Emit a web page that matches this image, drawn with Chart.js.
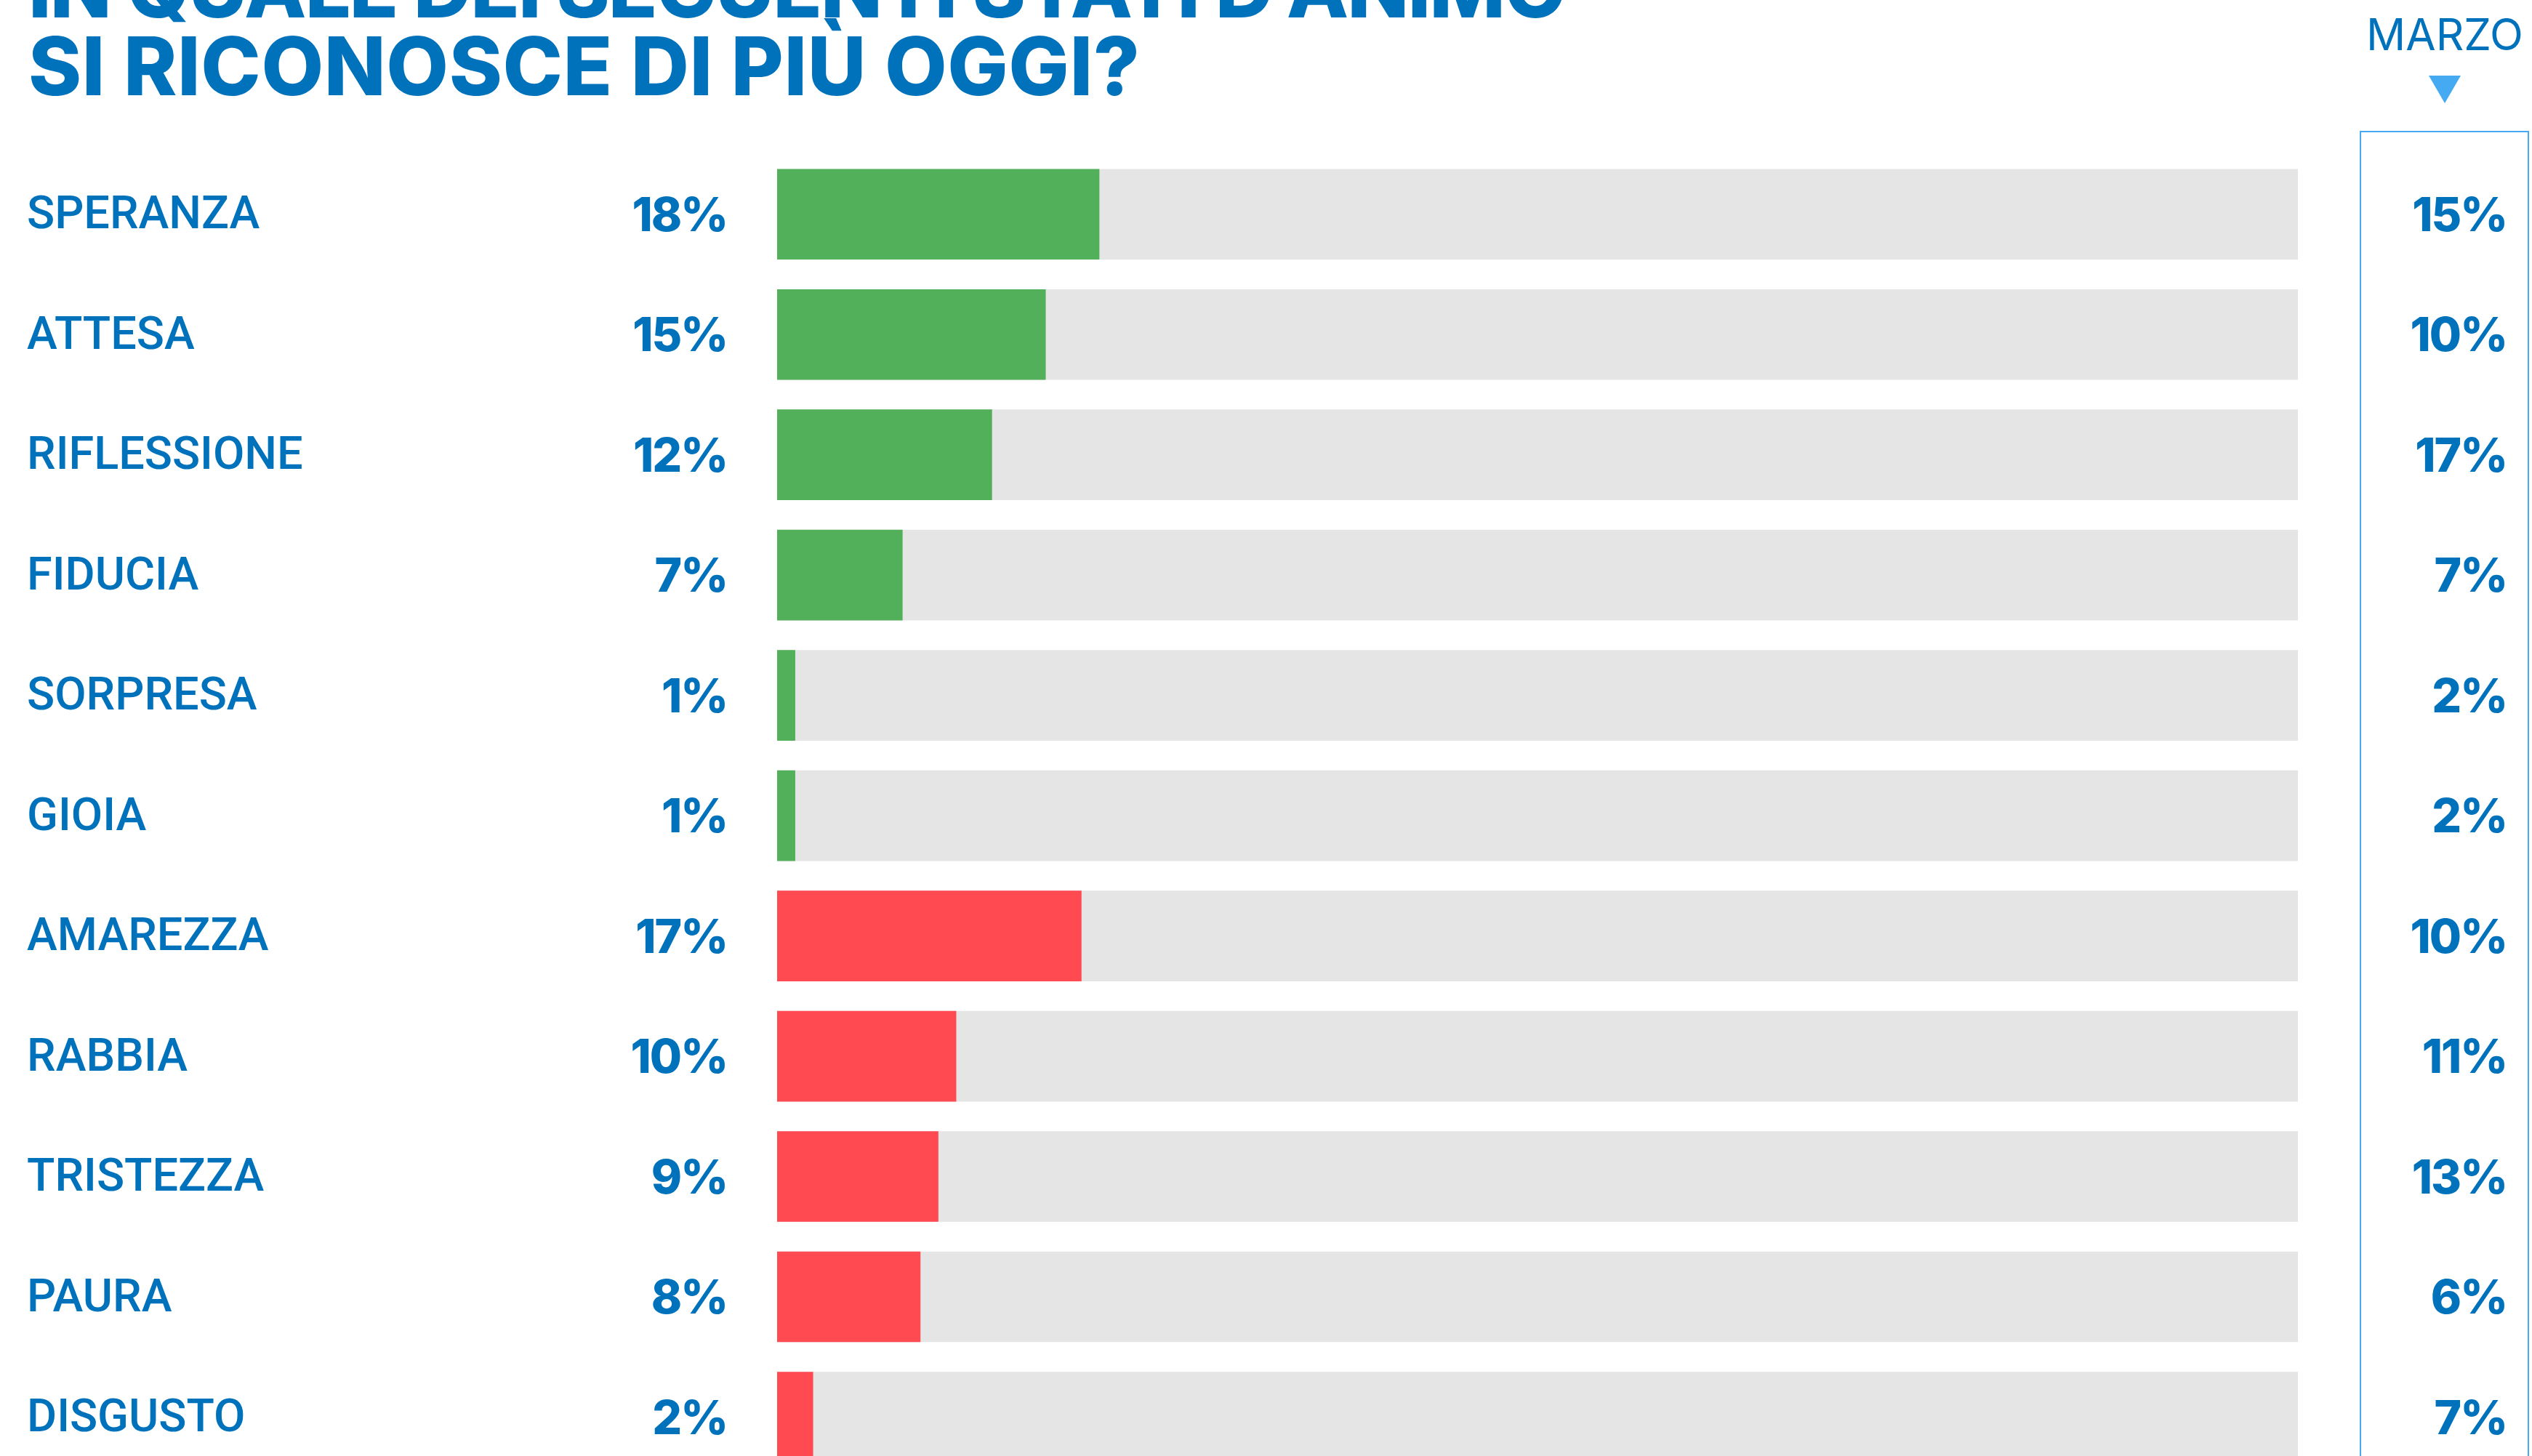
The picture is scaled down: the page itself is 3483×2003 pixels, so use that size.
<!DOCTYPE html>
<html>
<head>
<meta charset="utf-8">
<script src="https://cdn.jsdelivr.net/npm/chart.js@4.4.1/dist/chart.umd.min.js"></script>
<style>
  html, body { margin: 0; padding: 0; background: #fff; overflow: hidden; }
  #wrap { position: relative; width: 3483px; height: 2003px; overflow: hidden; }
  #chart { position: absolute; left: 0; top: 0; }
  svg { position: absolute; left: 0; top: 0; }
</style>
</head>
<body>
<div id="wrap">
  <canvas id="chart" width="3483" height="2070"></canvas>
  <svg width="3483" height="2003">
    <text x="39" y="24" textLength="2116" lengthAdjust="spacing" font-family="Inter" font-weight="800" font-size="111" fill="#0072bc">IN QUALE DEI SEGUENTI STATI D’ANIMO</text>
    <text x="39" y="131" textLength="1529" lengthAdjust="spacing" font-family="Inter" font-weight="800" font-size="111" fill="#0072bc">SI RICONOSCE DI PIÙ OGGI?</text>
    <text x="3363" y="69" text-anchor="middle" font-family="Inter" font-weight="400" font-size="60" fill="#0072bc">MARZO</text>
    <polygon points="3341,104 3385,104 3363,142" fill="#45aaf2"/>
    <rect x="3247" y="181" width="231" height="1900" fill="none" stroke="#45aaf2" stroke-width="2"/>
  </svg>
</div>
<script>
const categories = ['SPERANZA', 'ATTESA', 'RIFLESSIONE', 'FIDUCIA', 'SORPRESA', 'GIOIA',
                    'AMAREZZA', 'RABBIA', 'TRISTEZZA', 'PAURA', 'DISGUSTO'];
const oggi = [18, 15, 12, 7, 1, 1, 17, 10, 9, 8, 2];
const marzo = [15, 10, 17, 7, 2, 2, 10, 11, 13, 6, 7];
const positiveCount = 6;   // first six moods are positive (green)
const scaleMax = 85;

const blue = '#0072bc';
const green = '#52b05a';
const red = '#ff4a52';
const track = '#e5e5e5';

const pctFont = 'Inter';
const capRatio = 0.727;

const valueLabels = {
    id: 'valueLabels',
    afterDatasetsDraw(chart) {
        const {ctx, chartArea, scales: {y}} = chart;
        ctx.save();
        ctx.fillStyle = blue;
        ctx.textAlign = 'right';
        ctx.textBaseline = 'alphabetic';
        const size = 64;
        ctx.font = `800 ${size}px ${pctFont}`;
        if ('letterSpacing' in ctx) ctx.letterSpacing = '-2px';
        categories.forEach((c, i) => {
            const yy = y.getPixelForValue(i) + size*capRatio/2;
            ctx.fillText(oggi[i] + '%', chartArea.left - 69, yy);
            ctx.fillText(marzo[i] + '%', 3448, yy);
        });
        ctx.restore();
    }
};

new Chart(document.getElementById('chart'), {
    type: 'bar',
    data: {
        labels: categories,
        datasets: [
            {
                label: 'Oggi',
                data: oggi,
                backgroundColor: oggi.map((v, i) => i < positiveCount ? green : red),
                order: 1,
            },
            {
                label: 'Sfondo',
                data: categories.map(() => scaleMax),
                backgroundColor: track,
                order: 2,
            },
        ]
    },
    options: {
        indexAxis: 'y',
        responsive: false,
        animation: false,
        devicePixelRatio: 1,
        layout: { padding: { left: 37, top: 212, right: 322, bottom: 8 } },
        datasets: { bar: { grouped: false, barThickness: 124 } },
        plugins: { legend: { display: false }, tooltip: { enabled: false }, title: { display: false } },
        scales: {
            x: { display: false, min: 0, max: scaleMax },
            y: {
                grid: { display: false },
                border: { display: false },
                ticks: {
                    crossAlign: 'far',
                    color: blue,
                    padding: 0,
                    labelOffset: 4,
                    font: { family: 'Roboto', size: 63, weight: 500 },
                },
                afterFit(scale) { scale.width = 1032; },
            },
        },
    },
    plugins: [valueLabels],
});
</script>
</body>
</html>
